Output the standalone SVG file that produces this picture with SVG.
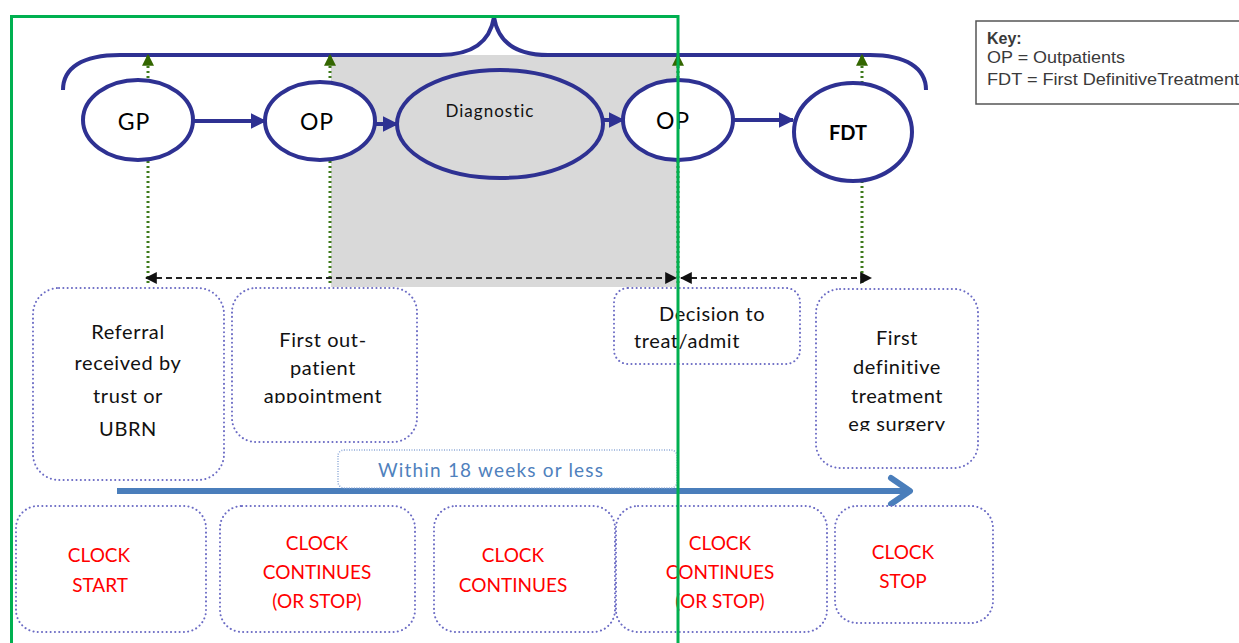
<svg xmlns="http://www.w3.org/2000/svg" width="1239" height="643" viewBox="0 0 1239 643">
  <style>
    .stage { fill: #ffffff; stroke: #2e3192; stroke-width: 4; }
    .stage-label { font-family: Lato, "Open Sans", sans-serif; font-size: 23px; letter-spacing: 1px; fill: #000; text-anchor: middle; }
    .flow { stroke: #2e3192; stroke-width: 4; fill: none; }
    .milestone { fill: none; stroke: #3d7a1a; stroke-width: 3; stroke-dasharray: 2 3; }
    .span { fill: none; stroke: #222; stroke-width: 2; stroke-dasharray: 6 4; }
    .dotbox { fill: #ffffff; stroke: #6b6bc4; stroke-width: 2; stroke-dasharray: 0.1 4.2; stroke-linecap: round; }
    .box-text { font-family: Lato, "Open Sans", sans-serif; font-size: 20px; letter-spacing: 0.6px; fill: #111; text-anchor: middle; }
    .clock-text { font-family: Lato, "Open Sans", sans-serif; font-size: 19px; fill: #ff0000; text-anchor: middle; }
    .key-text { font-family: "Liberation Sans", Arial, sans-serif; font-size: 16px; fill: #3a3a3a; }
  </style>
  <defs>
    <marker id="blueHead" viewBox="0 0 10 10" refX="9" refY="5" markerWidth="4" markerHeight="4" orient="auto" markerUnits="strokeWidth">
      <path d="M0 0 L10 5 L0 10 z" fill="#2e3192"/>
    </marker>
    <marker id="greenHead" viewBox="0 0 10 10" refX="9" refY="5" markerWidth="4" markerHeight="4" orient="auto" markerUnits="strokeWidth">
      <path d="M0 0 L10 5 L0 10 z" fill="#336600"/>
    </marker>
    <marker id="blackHead" viewBox="0 0 10 10" refX="9" refY="5" markerWidth="6" markerHeight="6" orient="auto-start-reverse" markerUnits="strokeWidth">
      <path d="M0 0 L10 5 L0 10 z" fill="#111"/>
    </marker>
    <clipPath id="clipAppt"><rect x="232" y="380" width="185" height="23"/></clipPath>
    <clipPath id="clipSurgery"><rect x="816" y="410" width="162" height="21"/></clipPath>
  </defs>

  <!-- shaded diagnostic phase -->
  <rect x="331" y="55" width="347" height="232" fill="#d9d9d9"/>

  <!-- overall pathway brace -->
  <path class="flow" d="M63 90 C63 68 82 55 120 55 L440 55 C472 55 490 42 494 17 C498 42 516 55 548 55 L870 55 C906 55 926 68 926 90"/>

  <g id="connectors">
    <!-- pathway flow -->
    <line class="flow" x1="193" y1="121" x2="265" y2="121" marker-end="url(#blueHead)"/>
    <line class="flow" x1="375" y1="124" x2="397" y2="124" marker-end="url(#blueHead)"/>
    <line class="flow" x1="603" y1="120" x2="623" y2="120" marker-end="url(#blueHead)"/>
    <line class="flow" x1="733" y1="120" x2="793" y2="120" marker-end="url(#blueHead)"/>
    <!-- milestone markers -->
    <line class="milestone" x1="148" y1="283" x2="148" y2="55" marker-end="url(#greenHead)"/>
    <line class="milestone" x1="330" y1="283" x2="330" y2="55" marker-end="url(#greenHead)"/>
    <line class="milestone" x1="678" y1="283" x2="678" y2="55" marker-end="url(#greenHead)"/>
    <line class="milestone" x1="862" y1="283" x2="862" y2="55" marker-end="url(#greenHead)"/>
    <!-- time spans -->
    <line class="span" x1="146" y1="278" x2="676" y2="278" marker-start="url(#blackHead)" marker-end="url(#blackHead)"/>
    <line class="span" x1="681" y1="278" x2="871" y2="278" marker-start="url(#blackHead)" marker-end="url(#blackHead)"/>
    <!-- 18 week timeline -->
    <line x1="117" y1="491" x2="908" y2="491" stroke="#4a7ebb" stroke-width="6"/>
    <path d="M891 478 L910 491 L891 504" fill="none" stroke="#4a7ebb" stroke-width="6" stroke-linecap="round" stroke-linejoin="round"/>
  </g>

  <g id="node-gp">
    <ellipse class="stage" cx="138" cy="120" rx="55" ry="40"/>
    <text class="stage-label" x="134" y="130">GP</text>
  </g>
  <g id="node-op1">
    <ellipse class="stage" cx="320" cy="121" rx="55" ry="39"/>
    <text class="stage-label" x="317" y="130">OP</text>
  </g>
  <g id="node-diagnostic">
    <ellipse class="stage" cx="500" cy="124" rx="103" ry="54" style="fill:#d9d9d9"/>
    <text x="490" y="117" font-family="Lato, 'Open Sans', sans-serif" font-size="17" letter-spacing="1" text-anchor="middle" fill="#111">Diagnostic</text>
  </g>
  <g id="node-op2">
    <ellipse class="stage" cx="678" cy="120" rx="55" ry="40"/>
    <text class="stage-label" x="673" y="129">OP</text>
  </g>
  <g id="node-fdt">
    <ellipse class="stage" cx="853" cy="132" rx="59" ry="49"/>
    <text x="848" y="140" font-family="Lato, 'Open Sans', sans-serif" font-size="20" font-weight="bold" text-anchor="middle" fill="#000">FDT</text>
  </g>

  <g id="node-key">
    <rect x="976" y="21" width="270" height="83" fill="#fff" stroke="#555" stroke-width="1.5"/>
    <text class="key-text" x="987" y="44" font-weight="bold" font-size="17">Key:</text>
    <text class="key-text" x="987" y="63" textLength="138" lengthAdjust="spacingAndGlyphs">OP = Outpatients</text>
    <text class="key-text" x="987" y="85" textLength="252" lengthAdjust="spacingAndGlyphs">FDT = First DefinitiveTreatment</text>
  </g>

  <g id="node-referral">
    <rect class="dotbox" x="33" y="288" width="191" height="192" rx="26"/>
    <text class="box-text" x="128" y="339">Referral</text>
    <text class="box-text" x="128" y="370">received by</text>
    <text class="box-text" x="128" y="403">trust or</text>
    <text class="box-text" x="128" y="436">UBRN</text>
  </g>
  <g id="node-first-op">
    <rect class="dotbox" x="232" y="288" width="185" height="154" rx="24"/>
    <text class="box-text" x="323" y="347">First out-</text>
    <text class="box-text" x="323" y="375">patient</text>
    <text class="box-text" x="323" y="403" clip-path="url(#clipAppt)">appointment</text>
  </g>
  <g id="node-decision">
    <rect class="dotbox" x="614" y="288" width="186" height="76" rx="14"/>
    <text class="box-text" x="659" y="321" style="text-anchor:start">Decision to</text>
    <text class="box-text" x="634" y="348" style="text-anchor:start">treat/admit</text>
  </g>
  <g id="node-fdt-box">
    <rect class="dotbox" x="816" y="289" width="162" height="179" rx="24"/>
    <text class="box-text" x="897" y="345">First</text>
    <text class="box-text" x="897" y="374">definitive</text>
    <text class="box-text" x="897" y="403">treatment</text>
    <text class="box-text" x="897" y="431" clip-path="url(#clipSurgery)">eg surgery</text>
  </g>
  <g id="node-within">
    <rect x="338" y="450" width="339" height="38" rx="6" fill="#fff" stroke="#8ea9d8" stroke-width="1.5" stroke-dasharray="1 1.5"/>
    <text x="378" y="477" font-family="Lato, 'Open Sans', sans-serif" font-size="19" fill="#4f81bd" textLength="225" lengthAdjust="spacing">Within 18 weeks or less</text>
  </g>

  <g id="node-clock-start">
    <rect class="dotbox" x="16" y="506" width="190" height="126" rx="22"/>
    <text class="clock-text" x="99" y="562">CLOCK</text>
    <text class="clock-text" x="100" y="592">START</text>
  </g>
  <g id="node-clock-continues-1">
    <rect class="dotbox" x="220" y="506" width="195" height="126" rx="22"/>
    <text class="clock-text" x="317" y="550">CLOCK</text>
    <text class="clock-text" x="317" y="579">CONTINUES</text>
    <text class="clock-text" x="317" y="608">(OR STOP)</text>
  </g>
  <g id="node-clock-continues-2">
    <rect class="dotbox" x="434" y="506" width="181" height="126" rx="22"/>
    <text class="clock-text" x="513" y="562">CLOCK</text>
    <text class="clock-text" x="513" y="592">CONTINUES</text>
  </g>
  <g id="node-clock-continues-3">
    <rect class="dotbox" x="616" y="506" width="211" height="126" rx="22"/>
    <text class="clock-text" x="720" y="550">CLOCK</text>
    <text class="clock-text" x="720" y="579">CONTINUES</text>
    <text class="clock-text" x="720" y="608">(OR STOP)</text>
  </g>
  <g id="node-clock-stop">
    <rect class="dotbox" x="835" y="506" width="158" height="117" rx="22"/>
    <text class="clock-text" x="903" y="559">CLOCK</text>
    <text class="clock-text" x="903" y="588">STOP</text>
  </g>

  <!-- highlighted section frame -->
  <path d="M11.5 660 L11.5 16.5 L678 16.5 L678 660" fill="none" stroke="#00b050" stroke-width="3"/>
</svg>
